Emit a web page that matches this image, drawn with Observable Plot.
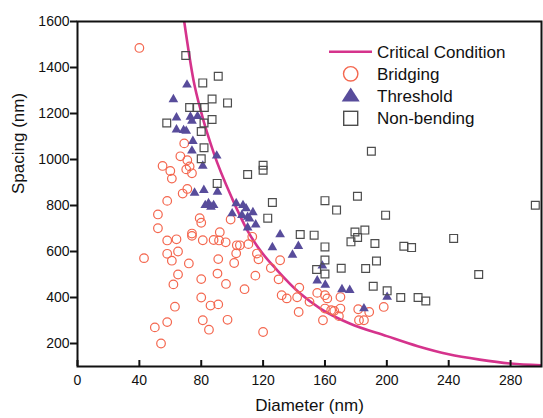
<!DOCTYPE html>
<html><head><meta charset="utf-8">
<script src="https://cdn.jsdelivr.net/npm/d3@7"></script>
<script src="https://cdn.jsdelivr.net/npm/@observablehq/plot@0.6"></script>
<style>
body{margin:0;background:#fff;}
#chart{position:relative;width:543px;height:418px;font-family:"Liberation Sans",Arial,sans-serif;}
#legend{position:absolute;left:0;top:0;pointer-events:none;}
</style></head><body><div id="chart"></div>
<script>
// Critical condition curve
const curveD = [69, 75, 80, 88, 100, 110, 118, 129, 144, 157, 176, 200, 220, 240, 260, 280, 300];
const curveS = [1600, 1345, 1205, 1030, 830, 690, 606, 519, 417, 352, 287, 232, 188, 153, 130, 113, 105];

// Bridging (open circles)
const bridgingD = [40, 69, 66.5, 71, 72.5, 70.3, 74, 55, 60, 61, 68, 71, 58, 52, 52, 79, 80, 74, 74, 58, 64, 81, 88, 91.5, 92, 95.8, 99, 103, 105, 110.5, 113, 65, 58, 61, 43, 72, 91, 102.6, 101.3, 116, 117, 131, 125, 65, 62, 80, 90.5, 96, 108, 115, 130, 143.4, 132, 135.3, 142, 150, 155, 160, 161.5, 170, 160, 164, 166, 170, 169, 158.7, 143, 80, 86, 91, 63, 81, 58, 50, 85, 54, 97, 120, 181.5, 188.6, 182, 185.2, 198];
const bridgingS = [1485, 1070, 1014, 997, 970, 957, 940, 972, 950, 917, 852, 872, 820, 761, 701, 745, 725, 678, 668, 648, 653, 649, 650, 648, 684, 640, 739, 627, 627, 632, 664, 600, 590, 560, 571, 548, 567, 592, 550, 591, 566, 562, 528, 500, 457, 480, 504, 459, 436, 495, 479, 443, 410, 396, 401, 381, 420, 410, 396, 402, 352, 345, 342, 352, 319, 301, 337, 400, 365, 370, 360, 301, 293, 270, 260, 200, 303, 250, 349, 337, 301, 301, 359];

// Threshold (filled triangles)
const thresholdD = [70.8, 62, 64, 73, 77.6, 74, 64, 68.6, 70.3, 74.6, 74, 81, 90, 75.7, 81.7, 90.5, 82.6, 84.7, 86.3, 88, 102.6, 107, 109, 113.4, 100, 106.3, 110, 111.2, 115.2, 110, 131, 126, 142.8, 139, 158.3, 155, 160.2, 171, 176, 200.2, 185.2];
const thresholdS = [1325, 1261, 1182, 1185, 1188, 1168, 1130, 1127, 1124, 1080, 1038, 972, 1016, 855, 867, 859, 801, 809, 794, 801, 809, 801, 787, 770, 765, 758, 750, 743, 717, 704, 674, 618, 623, 585, 538, 473, 455, 435, 432, 402, 352];

// Non-bending (open squares)
const nonBendingD = [70, 91, 81, 87, 97, 72.5, 77.2, 82, 87, 57.7, 81.8, 80, 81.8, 80, 90.3, 110, 120, 120, 126, 123, 144, 153, 160, 167.5, 160, 160, 154.6, 160, 170.5, 190, 181, 199.2, 296, 179.4, 185.8, 181.1, 176.8, 192.3, 211, 216, 243.2, 186.3, 193.3, 259.4, 191.2, 200.2, 209, 220.2, 225.2];
const nonBendingS = [1452, 1362, 1333, 1263, 1246, 1226, 1226, 1226, 1174, 1159, 1159, 1122, 1051, 1003, 896, 935, 975, 953, 813, 745, 674, 671, 821, 780, 620, 563, 522, 502, 527, 1036, 840, 758, 801, 685, 693, 661, 642, 635, 623, 617, 657, 526, 559, 500, 449, 429, 400, 400, 385];

const xTicks = [0, 40, 80, 120, 160, 200, 240, 280];
const yTicks = [200, 400, 600, 800, 1000, 1200, 1400, 1600];
const seriesNames = ["Critical Condition", "Bridging", "Threshold", "Non-bending"];
const xTitle = "Diameter (nm)";
const yTitle = "Spacing (nm)";

const curveColor = "#d5338c";
const bridgingColor = "#f4674f";
const thresholdColor = "#584c9b";
const nonBendingColor = "#4d4d4d";

const zip = (D, S) => D.map((d, i) => ({d, s: S[i]}));
const curve = zip(curveD, curveS);
const bridging = zip(bridgingD, bridgingS);
const threshold = zip(thresholdD, thresholdS);
const nonBending = zip(nonBendingD, nonBendingS);

const W = 543, H = 418, mT = 21, mB = 52, mL = 77, mR = 2;
const frameH = H - mT - mB;

const plot = Plot.plot({
  width: W, height: H,
  marginLeft: mL, marginRight: mR, marginTop: mT, marginBottom: mB,
  x: {domain: [0, 300]},
  y: {domain: [100, 1600]},
  style: {fontFamily: "'Liberation Sans', Arial, sans-serif", fontSize: "14px", color: "#111", background: "white"},
  marks: [
    Plot.line(curve, {x: "d", y: "s", stroke: curveColor, strokeWidth: 2.6, curve: "monotone-x", clip: true}),
    Plot.dot(bridging, {x: "d", y: "s", r: 4.3, stroke: bridgingColor, strokeWidth: 1.2, fill: "none"}),
    Plot.dot(threshold, {x: "d", y: "s", symbol: "triangle", r: 3.6, fill: thresholdColor, stroke: "none"}),
    Plot.dot(nonBending, {x: "d", y: "s", symbol: "square", r: 4.4, stroke: nonBendingColor, strokeWidth: 1.2, fill: "none"}),
    Plot.frame({stroke: "#111", strokeWidth: 2}),
    Plot.axisY({ticks: yTicks, tickFormat: d => String(d), tickSize: 7, tickPadding: 1, strokeWidth: 2, stroke: "#111", label: null, fontSize: 14}),
    Plot.axisX({ticks: xTicks, tickFormat: d => String(d), tickSize: 0, tickPadding: 9, label: null, fontSize: 14}),
    Plot.tickX(xTicks, {x: d => d, insetTop: frameH - 6, stroke: "#111", strokeWidth: 2}),
    Plot.text([xTitle], {text: d => d, frameAnchor: "bottom", dy: 44, fontSize: 17}),
    Plot.text([yTitle], {text: d => d, frameAnchor: "left", dx: -59, rotate: -90, fontSize: 17})
  ]
});
const chart = document.getElementById("chart");
chart.appendChild(plot);

// Legend overlay (top-right inside the frame)
const lx = 350.7, tx = 377, rows = [51.7, 73.8, 95.5, 118.3];
const lg = d3.select(chart).append("svg").attr("id", "legend").attr("width", W).attr("height", H)
  .style("font-family", "'Liberation Sans', Arial, sans-serif");
lg.append("line").attr("x1", 329).attr("x2", 372).attr("y1", rows[0]).attr("y2", rows[0])
  .attr("stroke", curveColor).attr("stroke-width", 2.6);
lg.append("circle").attr("cx", lx).attr("cy", rows[1]).attr("r", 7.2)
  .attr("fill", "none").attr("stroke", bridgingColor).attr("stroke-width", 1.4);
lg.append("polygon").attr("points", `${lx-9},${rows[2]+6} ${lx+9},${rows[2]+6} ${lx},${rows[2]-8}`)
  .attr("fill", thresholdColor);
lg.append("rect").attr("x", lx - 7).attr("y", rows[3] - 7).attr("width", 14).attr("height", 14)
  .attr("fill", "none").attr("stroke", nonBendingColor).attr("stroke-width", 1.4);
seriesNames.forEach((n, i) => {
  lg.append("text").attr("x", tx).attr("y", rows[i]).attr("dy", "0.36em")
    .attr("font-size", 17).attr("fill", "#111").text(n);
});
</script></body></html>
